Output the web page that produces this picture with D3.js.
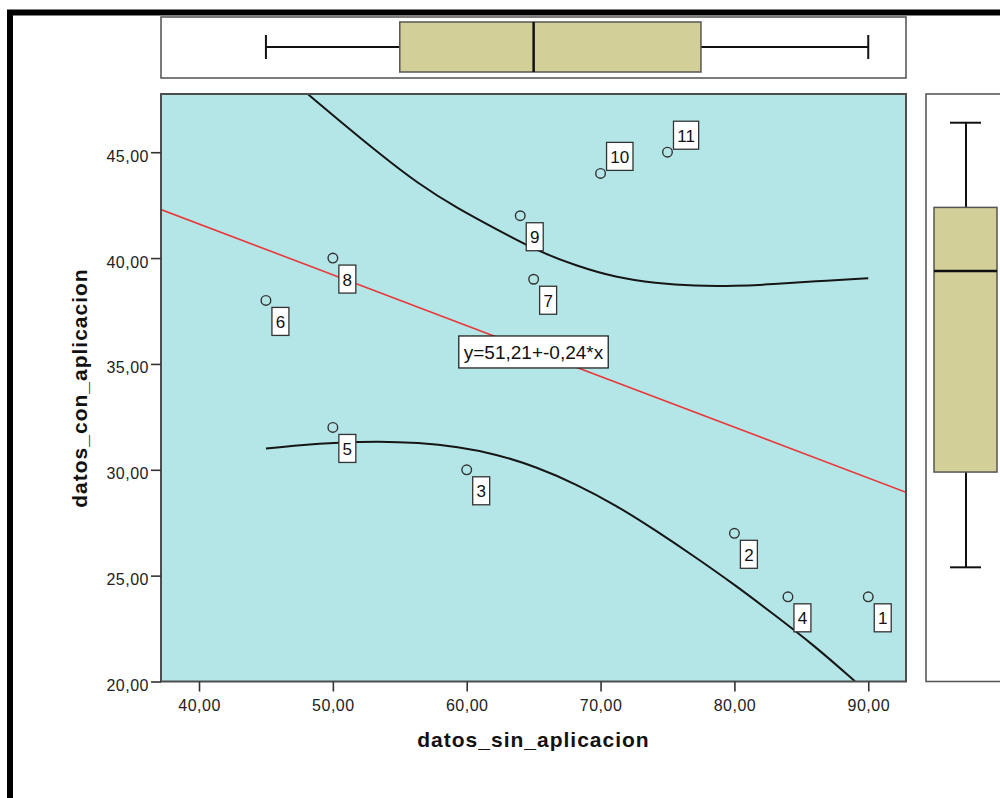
<!DOCTYPE html>
<html>
<head>
<meta charset="utf-8">
<script src="https://cdn.jsdelivr.net/npm/d3@7/dist/d3.min.js"></script>
<style>
body { margin: 0; background: #fff; }
svg { display: block; font-family: "Liberation Sans", Arial, sans-serif; }
</style>
</head>
<body>
<div id="chart_container"></div>
<script>
// case numbers and the two variables
var caseIds = [1, 2, 3, 4, 5, 6, 7, 8, 9, 10, 11];
var sinAplicacion = [90, 80, 60, 84, 50, 45, 65, 50, 64, 70, 75];
var conAplicacion = [24, 27, 30, 24, 32, 38, 39, 40, 42, 44, 45];

// boxplot stats: min, lower hinge, median, upper hinge, max
var sinBox = [45, 55, 65, 77.5, 90];
var conBox = [24, 28.5, 38, 41, 45];

// fit line y = a + b*x
var fitCoef = [51.21, -0.24];
var fitLabel = "y=51,21+-0,24*x";

// interval curves
var upperX = [48.1, 50.47, 53.42, 56.37, 59.32, 62.28, 65.23, 68.18, 71.14, 74.09, 77.05, 80, 82.95, 85.91, 90];
var upperY = [47.76, 46.5, 44.96, 43.51, 42.34, 41.34, 40.35, 39.63, 39.08, 38.81, 38.68, 38.68, 38.76, 38.9, 39.05];
var lowerX = [45, 47.51, 50.47, 53.42, 56.37, 59.32, 62.28, 65.23, 68.18, 71.14, 74.09, 77.05, 80, 82.95, 85.91, 89.01];
var lowerY = [31, 31.17, 31.29, 31.35, 31.28, 31.09, 30.73, 30.13, 29.32, 28.33, 27.15, 25.89, 24.58, 23.17, 21.73, 20.01];

var xTicks = [40, 50, 60, 70, 80, 90];
var yTicks = [20, 25, 30, 35, 40, 45];

var xTitle = "datos_sin_aplicacion";
var yTitle = "datos_con_aplicacion";


var svg = d3.select("#chart_container").append("svg")
    .attr("width", 1000)
    .attr("height", 798);

var x = d3.scaleLinear().domain([37.16, 92.82]).range([161, 906]);
var y = d3.scaleLinear().domain([20, 47.75]).range([681.5, 94]);
var fmt = function(d) { return d3.format(".2f")(d).replace(".", ","); };

// outer black frame (runs off right and bottom)
svg.append("rect")
    .attr("x", 10).attr("y", 12.5)
    .attr("width", 1020).attr("height", 820)
    .attr("fill", "none")
    .attr("stroke", "#000")
    .attr("stroke-width", 6);

// plot background
svg.append("defs").append("clipPath").attr("id", "plotclip")
    .append("rect")
    .attr("x", 161).attr("y", 94)
    .attr("width", 745).attr("height", 587.5);

svg.append("rect")
    .attr("x", 161).attr("y", 94)
    .attr("width", 745).attr("height", 587.5)
    .attr("fill", "#b4e6e7");

var plot = svg.append("g").attr("clip-path", "url(#plotclip)");

// fit line
var fitLine = d3.line()
    .x(function(d) { return x(d); })
    .y(function(d) { return y(fitCoef[0] + fitCoef[1] * d); });
plot.append("path")
    .attr("d", fitLine(x.domain()))
    .attr("fill", "none")
    .attr("stroke", "#e8393c")
    .attr("stroke-width", 1.6);

// interval curves
var band = d3.line()
    .x(function(d) { return x(d[0]); })
    .y(function(d) { return y(d[1]); })
    .curve(d3.curveBasis);
[d3.zip(upperX, upperY), d3.zip(lowerX, lowerY)].forEach(function(pts) {
    plot.append("path")
        .attr("d", band(pts))
        .attr("fill", "none")
        .attr("stroke", "#161616")
        .attr("stroke-width", 2);
});

// points
var points = d3.zip(caseIds, sinAplicacion, conAplicacion);
plot.selectAll("circle.pt")
    .data(points)
    .enter().append("circle")
    .attr("class", "pt")
    .attr("cx", function(d) { return x(d[1]); })
    .attr("cy", function(d) { return y(d[2]); })
    .attr("r", 4.8)
    .attr("fill", "none")
    .attr("stroke", "#333")
    .attr("stroke-width", 1.4);

// case labels
var labels = plot.selectAll("g.lab")
    .data(points)
    .enter().append("g")
    .attr("class", "lab");
labels.each(function(d) {
    var g = d3.select(this);
    var px = x(d[1]), py = y(d[2]);
    var above = d[2] >= 44;
    var rect = g.append("rect");
    var t = g.append("text")
        .text(d[0])
        .attr("font-size", 17)
        .attr("fill", "#111")
        .attr("text-anchor", "middle");
    var w = t.node().getComputedTextLength() + 7.5;
    var top = above ? py - 31 : py + 7;
    rect.attr("x", px + 6).attr("y", top)
        .attr("width", w).attr("height", 28)
        .attr("fill", "#fff")
        .attr("stroke", "#333")
        .attr("stroke-width", 1.3);
    t.attr("x", px + 6 + w / 2).attr("y", top + 20.5);
});

// equation label, centered on the line at the middle of the plot
var midX = (x.domain()[0] + x.domain()[1]) / 2;
var eqG = svg.append("g");
var eqText = eqG.append("text")
    .text(fitLabel)
    .attr("font-size", 19)
    .attr("fill", "#111")
    .attr("text-anchor", "middle")
    .attr("x", x(midX))
    .attr("y", y(fitCoef[0] + fitCoef[1] * midX) + 8.5);
var eqW = eqText.node().getComputedTextLength() + 10;
eqG.insert("rect", "text")
    .attr("x", x(midX) - eqW / 2)
    .attr("y", y(fitCoef[0] + fitCoef[1] * midX) - 15)
    .attr("width", eqW).attr("height", 32)
    .attr("fill", "#fff")
    .attr("stroke", "#222")
    .attr("stroke-width", 1.3);

// plot frame
svg.append("rect")
    .attr("x", 161).attr("y", 94)
    .attr("width", 745).attr("height", 587.5)
    .attr("fill", "none")
    .attr("stroke", "#4d4d4d")
    .attr("stroke-width", 2);

// axes
var xAxis = svg.append("g")
    .attr("transform", "translate(0,681.5)")
    .call(d3.axisBottom(x).tickValues(xTicks).tickFormat(fmt).tickSize(10).tickSizeOuter(0));
xAxis.select(".domain").remove();
xAxis.selectAll("line").attr("stroke", "#333").attr("stroke-width", 1.6);
xAxis.selectAll("text")
    .attr("y", 29).attr("dy", null)
    .attr("font-size", 16)
    .attr("letter-spacing", 0.5)
    .attr("fill", "#222")
    .attr("font-family", "\"Liberation Sans\", Arial, sans-serif");

var yAxis = svg.append("g")
    .attr("transform", "translate(161,0)")
    .call(d3.axisLeft(y).tickValues(yTicks).tickFormat(fmt).tickSize(10).tickSizeOuter(0));
yAxis.select(".domain").remove();
yAxis.selectAll("line").attr("stroke", "#333").attr("stroke-width", 1.6);
yAxis.selectAll("text")
    .attr("x", -12).attr("dy", null).attr("y", 9)
    .attr("font-size", 16)
    .attr("letter-spacing", 0.5)
    .attr("fill", "#222")
    .attr("font-family", "\"Liberation Sans\", Arial, sans-serif");

// axis titles
svg.append("text")
    .text(xTitle)
    .attr("x", 533.5).attr("y", 747)
    .attr("text-anchor", "middle")
    .attr("font-size", 21)
    .attr("font-weight", "bold")
    .attr("letter-spacing", 1)
    .attr("fill", "#111");
svg.append("text")
    .text(yTitle)
    .attr("transform", "translate(87,388) rotate(-90)")
    .attr("text-anchor", "middle")
    .attr("font-size", 21)
    .attr("font-weight", "bold")
    .attr("letter-spacing", 1)
    .attr("fill", "#111");

// top boxplot (datos_sin_aplicacion)
svg.append("rect")
    .attr("x", 161).attr("y", 17)
    .attr("width", 745).attr("height", 61)
    .attr("fill", "#fff")
    .attr("stroke", "#5a5a5a")
    .attr("stroke-width", 1.6);
var topBox = svg.append("g");
topBox.append("line")
    .attr("x1", x(sinBox[0])).attr("x2", x(sinBox[4]))
    .attr("y1", 47).attr("y2", 47)
    .attr("stroke", "#111").attr("stroke-width", 2);
[sinBox[0], sinBox[4]].forEach(function(v) {
    topBox.append("line")
        .attr("x1", x(v)).attr("x2", x(v))
        .attr("y1", 35).attr("y2", 59)
        .attr("stroke", "#111").attr("stroke-width", 2);
});
topBox.append("rect")
    .attr("x", x(sinBox[1])).attr("y", 22)
    .attr("width", x(sinBox[3]) - x(sinBox[1])).attr("height", 50)
    .attr("fill", "#d3cf98")
    .attr("stroke", "#555")
    .attr("stroke-width", 1.5);
topBox.append("line")
    .attr("x1", x(sinBox[2])).attr("x2", x(sinBox[2]))
    .attr("y1", 22).attr("y2", 72)
    .attr("stroke", "#111").attr("stroke-width", 2.5);

// right boxplot (datos_con_aplicacion); same scale, drawn ~30px higher like the original
svg.append("rect")
    .attr("x", 926).attr("y", 94)
    .attr("width", 100).attr("height", 587.5)
    .attr("fill", "#fff")
    .attr("stroke", "#5a5a5a")
    .attr("stroke-width", 1.6);
var sideBox = svg.append("g").attr("transform", "translate(0,-29.5)");
sideBox.append("line")
    .attr("x1", 966).attr("x2", 966)
    .attr("y1", y(conBox[0])).attr("y2", y(conBox[4]))
    .attr("stroke", "#111").attr("stroke-width", 2);
[conBox[0], conBox[4]].forEach(function(v) {
    sideBox.append("line")
        .attr("x1", 950).attr("x2", 981)
        .attr("y1", y(v)).attr("y2", y(v))
        .attr("stroke", "#111").attr("stroke-width", 2);
});
sideBox.append("rect")
    .attr("x", 934).attr("y", y(conBox[3]))
    .attr("width", 63).attr("height", y(conBox[1]) - y(conBox[3]))
    .attr("fill", "#d3cf98")
    .attr("stroke", "#555")
    .attr("stroke-width", 1.5);
sideBox.append("line")
    .attr("x1", 934).attr("x2", 997)
    .attr("y1", y(conBox[2])).attr("y2", y(conBox[2]))
    .attr("stroke", "#111").attr("stroke-width", 2.5);
</script>
</body>
</html>
